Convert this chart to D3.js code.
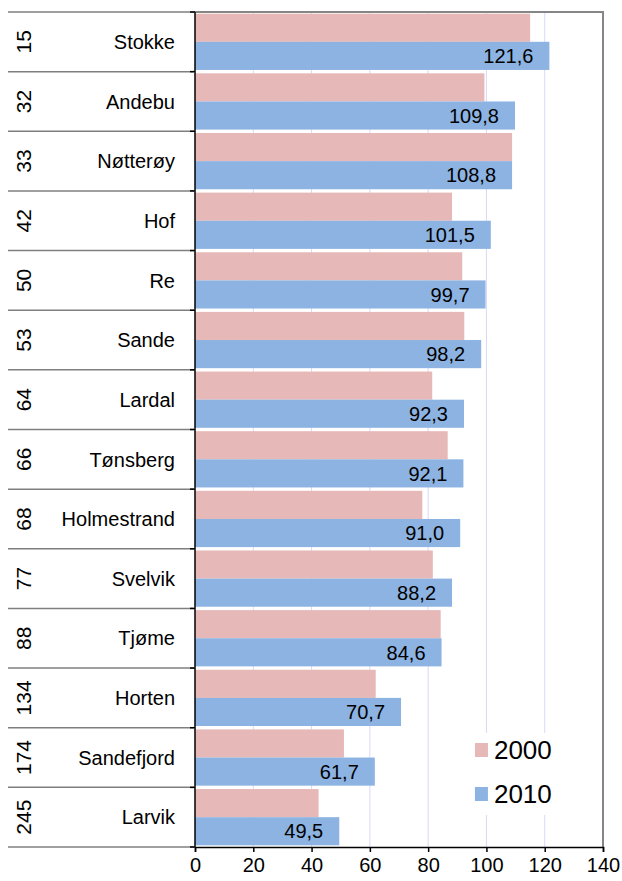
<!DOCTYPE html>
<html>
<head>
<meta charset="utf-8">
<script src="https://cdn.jsdelivr.net/npm/d3@7"></script>
<style>
  body { margin: 0; background: #fff; }
  text { font-family: "Liberation Sans", Arial, sans-serif; fill: #000; }
</style>
</head>
<body>
<div id="chart"></div>
<script>
const w = 622;
const h = 881;

// data
const kommuner = ["Stokke", "Andebu", "Nøtterøy", "Hof", "Re", "Sande", "Lardal",
    "Tønsberg", "Holmestrand", "Svelvik", "Tjøme", "Horten", "Sandefjord", "Larvik"];
const rank = [15, 32, 33, 42, 50, 53, 64, 66, 68, 77, 88, 134, 174, 245];
const v2000 = [115.0, 99.3, 108.8, 88.2, 91.7, 92.4, 81.4, 86.7, 78.0, 81.6, 84.3, 62.0, 51.1, 42.4];
const v2010 = [121.6, 109.8, 108.8, 101.5, 99.7, 98.2, 92.3, 92.1, 91.0, 88.2, 84.6, 70.7, 61.7, 49.5];
const seriesNames = ["2000", "2010"];
const colors = ["#e6b8b7", "#8db3e2"];
const xTicks = [0, 20, 40, 60, 80, 100, 120, 140];

const margin = { top: 12, right: 19, bottom: 34, left: 195 };
const width = w - margin.left - margin.right;
const height = h - margin.top - margin.bottom;

const rows = kommuner.map(function(k, i) {
    return { name: k, rank: rank[i], vals: [v2000[i], v2010[i]] };
});

const svg = d3.select("#chart")
    .append("svg")
    .attr("width", w)
    .attr("height", h);

const g = svg.append("g")
    .attr("transform", "translate(" + margin.left + "," + margin.top + ")");

const x = d3.scaleLinear().domain([0, 140]).range([0, width]);
const y = d3.scaleBand().domain(kommuner).range([0, height]);
const y1 = d3.scaleBand().domain(seriesNames).range([0, y.bandwidth()]).paddingOuter(0.06);

// gridlines
g.selectAll(".grid")
    .data(xTicks.slice(1))
    .enter()
    .append("line")
    .attr("x1", d => x(d)).attr("x2", d => x(d))
    .attr("y1", 0).attr("y2", height)
    .style("stroke", "#d9d9f7")
    .style("stroke-width", 1);

// bars
const grp = g.selectAll(".row")
    .data(rows)
    .enter()
    .append("g")
    .attr("transform", d => "translate(0," + y(d.name) + ")");

grp.selectAll("rect")
    .data(d => d.vals.map((v, j) => ({ s: seriesNames[j], v: v, j: j })))
    .enter()
    .append("rect")
    .attr("x", 0)
    .attr("y", d => y1(d.s))
    .attr("width", d => x(d.v))
    .attr("height", y1.bandwidth())
    .style("fill", d => colors[d.j]);

// value labels for 2010
grp.append("text")
    .attr("x", d => x(d.vals[1]) - 16)
    .attr("y", y1("2010") + y1.bandwidth() / 2)
    .attr("dy", "0.36em")
    .attr("text-anchor", "end")
    .style("font-size", "20px")
    .text(d => d3.format(".1f")(d.vals[1]).replace(".", ","));

// category names and ranks
const lab = svg.append("g").attr("transform", "translate(0," + margin.top + ")");
lab.selectAll(".name")
    .data(rows)
    .enter()
    .append("text")
    .attr("x", 175)
    .attr("y", d => y(d.name) + y.bandwidth() / 2)
    .attr("dy", "0.36em")
    .attr("text-anchor", "end")
    .style("font-size", "20px")
    .text(d => d.name);

lab.selectAll(".rank")
    .data(rows)
    .enter()
    .append("text")
    .attr("transform", d => "translate(31," + (y(d.name) + y.bandwidth() / 2) + ") rotate(-90)")
    .attr("text-anchor", "middle")
    .style("font-size", "21px")
    .text(d => d.rank);

// separators between categories
const seps = d3.range(kommuner.length + 1).map(i => i * y.step());
lab.selectAll(".sep")
    .data(seps)
    .enter()
    .append("line")
    .attr("x1", 8).attr("x2", margin.left)
    .attr("y1", d => d).attr("y2", d => d)
    .style("stroke", "#7f7f7f")
    .style("stroke-width", 1.5);
lab.selectAll(".tk")
    .data(seps)
    .enter()
    .append("line")
    .attr("x1", margin.left - 5).attr("x2", margin.left)
    .attr("y1", d => d).attr("y2", d => d)
    .style("stroke", "#000")
    .style("stroke-width", 1.5);

// frame: top and right in grey
g.append("path")
    .attr("d", "M0,0H" + width + "V" + height)
    .style("fill", "none")
    .style("stroke", "#868686")
    .style("stroke-width", 2);

// x axis
const xAxis = g.append("g")
    .attr("transform", "translate(0," + height + ")")
    .call(d3.axisBottom(x).tickValues(xTicks).tickSize(5).tickPadding(6));
xAxis.select(".domain").style("stroke", "#000").style("stroke-width", 1.5);
xAxis.selectAll("line").style("stroke", "#000").style("stroke-width", 1.5);
xAxis.selectAll("text").style("font-size", "20px").style("font-family", "Liberation Sans, Arial, sans-serif");

// y axis line
g.append("line")
    .attr("x1", 0).attr("x2", 0)
    .attr("y1", 0).attr("y2", height)
    .style("stroke", "#000")
    .style("stroke-width", 1.5);

// legend
const leg = g.append("g").attr("transform", "translate(" + (x(94) ) + "," + (721) + ")");
leg.append("rect")
    .attr("x", 0).attr("y", 0)
    .attr("width", 95).attr("height", 82)
    .style("fill", "#fff");
seriesNames.forEach(function(s, i) {
    leg.append("rect")
        .attr("x", 6).attr("y", 10 + i * 44)
        .attr("width", 13).attr("height", 14)
        .style("fill", colors[i]);
    leg.append("text")
        .attr("x", 25).attr("y", 17 + i * 44)
        .attr("dy", "0.36em")
        .style("font-size", "26px")
        .text(s);
});
</script>
</body>
</html>
